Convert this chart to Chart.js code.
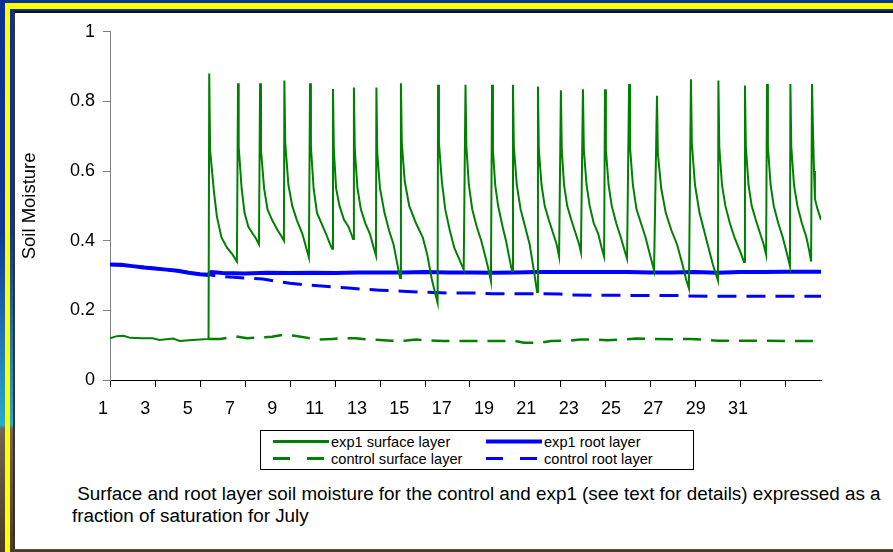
<!DOCTYPE html>
<html>
<head>
<meta charset="utf-8">
<script src="https://cdn.jsdelivr.net/npm/chart.js@4.4.1/dist/chart.umd.min.js"></script>
<style>
  html, body { margin: 0; padding: 0; }
  body {
    width: 893px; height: 552px; overflow: hidden; position: relative;
    background: linear-gradient(to bottom, #0b3290 0px, #0e3692 230px, #1f70b0 330px, #29aac6 425px, #756450 429px, #4a3b27 552px);
    font-family: "Liberation Sans", Arial, sans-serif;
  }
  #yellow { position: absolute; left: 5px; top: 3px; right: 0; bottom: 0; background: #ffff00; }
  #inner {
    position: absolute; left: 10px; top: 9px; right: 0; bottom: 0;
    background: linear-gradient(to bottom, #0b3290 0px, #0e3692 221px, #1f70b0 321px, #29aac6 416px, #756450 420px, #4a3b27 543px);
  }
  #panel {
    position: absolute; left: 13px; top: 11px; right: -5px; bottom: 2px; background: #fff;
    border-top: 2px solid #111; border-left: 2px solid #333; border-bottom: 1px solid #555;
  }
  #chart { position: absolute; left: 15px; top: 13px; }
  #legend {
    position: absolute; left: 260px; top: 430px; width: 432px; height: 38px;
    border: 1px solid #000; background: #fff;
  }
  .item { position: absolute; height: 17px; display: flex; align-items: center; font-size: 14.6px; color: #000; white-space: nowrap; }
  .item svg { margin-right: 2px; }
  #caption {
    position: absolute; left: 72px; top: 483px; font-size: 18.85px; line-height: 22px;
    color: #000; white-space: pre;
  }
</style>
</head>
<body>
<div id="yellow"></div>
<div id="inner"></div>
<div id="panel"></div>
<canvas id="chart" width="878" height="415"></canvas>
<div id="legend"></div>
<div id="caption"> Surface and root layer soil moisture for the control and exp1 (see text for details) expressed as a
fraction of saturation for July</div>
<script>
// day labels shown under the axis
const tickDays = [1, 3, 5, 7, 9, 11, 13, 15, 17, 19, 21, 23, 25, 27, 29, 31];

// exp1 surface layer
const exp1SurfaceDay = [
  1.00, 1.30, 1.60, 1.90, 2.40, 2.90, 3.20, 3.50, 3.80, 4.10, 4.50, 5.00, 5.38,
  5.41, 5.45, 5.62, 5.75, 5.95, 6.20, 6.45, 6.64,
  6.69, 6.72, 6.85, 6.98, 7.15, 7.35, 7.50, 7.62,
  7.67, 7.71, 7.85, 8.00, 8.20, 8.45, 8.60, 8.73,
  8.75, 8.79, 8.93, 9.10, 9.30, 9.55, 9.72, 9.84,
  9.89, 9.93, 10.05, 10.20, 10.40, 10.60, 10.78, 10.87,
  10.91, 10.95, 11.05, 11.20, 11.40, 11.60, 11.72, 11.80,
  11.84, 11.88, 12.00, 12.15, 12.35, 12.55, 12.72, 12.82,
  12.84, 12.88, 13.00, 13.20, 13.40, 13.60, 13.78, 13.89,
  13.93, 13.97, 14.10, 14.30, 14.60, 14.90, 15.10, 15.30, 15.45, 15.56,
  15.58, 15.62, 15.75, 15.90, 16.10, 16.30, 16.50, 16.72,
  16.80, 16.84, 16.95, 17.10, 17.30, 17.50, 17.70, 17.85, 17.93,
  17.98, 18.02, 18.12, 18.25, 18.45, 18.60, 18.75, 18.87,
  18.91, 18.95, 19.08, 19.25, 19.45, 19.65, 19.85, 19.98,
  20.02, 20.06, 20.18, 20.32, 20.50, 20.70, 20.85, 20.96,
  21.04, 21.08, 21.18, 21.32, 21.50, 21.70, 21.85, 21.93,
  22.02, 22.06, 22.18, 22.32, 22.50, 22.70, 22.85, 22.96,
  23.00, 23.04, 23.16, 23.30, 23.50, 23.70, 23.88, 23.98,
  24.07, 24.11, 24.24, 24.40, 24.60, 24.80, 25.00, 25.18,
  25.31, 25.35, 25.50, 25.70, 25.95, 26.20, 26.45, 26.60, 26.73,
  26.82, 26.86, 27.00, 27.20, 27.40, 27.60, 27.80, 28.02,
  28.04, 28.08, 28.20, 28.35, 28.55, 28.75, 29.00, 29.18,
  29.22, 29.26, 29.38, 29.52, 29.70, 29.90, 30.05, 30.16,
  30.20, 30.24, 30.36, 30.50, 30.70, 30.90, 31.10, 31.22,
  31.24, 31.28, 31.40, 31.55, 31.75, 31.95, 32.08, 32.16,
  32.20, 32.25, 32.29, 32.33, 32.45, 32.60
];
const exp1SurfaceValue = [
  0.120, 0.126, 0.127, 0.121, 0.120, 0.120, 0.115, 0.117, 0.119, 0.112, 0.114, 0.116, 0.118,
  0.880, 0.660, 0.540, 0.470, 0.410, 0.380, 0.360, 0.340,
  0.852, 0.670, 0.550, 0.480, 0.440, 0.420, 0.405, 0.390,
  0.852, 0.660, 0.550, 0.490, 0.460, 0.430, 0.415, 0.400,
  0.860, 0.680, 0.560, 0.500, 0.460, 0.420, 0.380, 0.352,
  0.852, 0.670, 0.550, 0.480, 0.450, 0.420, 0.390, 0.377,
  0.836, 0.660, 0.550, 0.500, 0.460, 0.440, 0.420, 0.405,
  0.840, 0.660, 0.550, 0.490, 0.450, 0.420, 0.380, 0.358,
  0.840, 0.650, 0.550, 0.480, 0.430, 0.390, 0.330, 0.293,
  0.852, 0.680, 0.570, 0.500, 0.450, 0.410, 0.360, 0.290, 0.250, 0.222,
  0.848, 0.680, 0.570, 0.490, 0.430, 0.380, 0.350, 0.317,
  0.848, 0.670, 0.560, 0.490, 0.440, 0.400, 0.350, 0.310, 0.284,
  0.848, 0.660, 0.560, 0.500, 0.440, 0.400, 0.350, 0.312,
  0.848, 0.670, 0.560, 0.490, 0.440, 0.390, 0.310, 0.253,
  0.843, 0.660, 0.560, 0.500, 0.460, 0.420, 0.390, 0.355,
  0.832, 0.660, 0.560, 0.500, 0.460, 0.420, 0.390, 0.367,
  0.835, 0.660, 0.560, 0.500, 0.450, 0.420, 0.380, 0.355,
  0.835, 0.660, 0.560, 0.500, 0.450, 0.410, 0.370, 0.349,
  0.850, 0.670, 0.560, 0.490, 0.450, 0.410, 0.360, 0.315,
  0.816, 0.650, 0.550, 0.480, 0.430, 0.390, 0.330, 0.290, 0.263,
  0.864, 0.680, 0.560, 0.480, 0.430, 0.380, 0.330, 0.286,
  0.860, 0.670, 0.560, 0.500, 0.450, 0.410, 0.370, 0.339,
  0.846, 0.670, 0.560, 0.500, 0.460, 0.420, 0.390, 0.360,
  0.850, 0.670, 0.560, 0.500, 0.450, 0.410, 0.360, 0.327,
  0.850, 0.670, 0.560, 0.500, 0.450, 0.410, 0.370, 0.340,
  0.850, 0.700, 0.600, 0.520, 0.490, 0.460
];

// exp1 root layer
const exp1RootDay = [1.0, 1.5, 2.0, 2.5, 3.0, 3.5, 4.0, 4.5, 5.0, 5.35, 5.5, 6, 7, 8, 9, 10, 11, 12, 13, 14, 15, 16, 17, 18, 19, 20, 21, 22, 23, 24, 25, 26, 27, 28, 29, 30, 31, 32, 32.6];
const exp1RootValue = [0.332, 0.331, 0.327, 0.323, 0.320, 0.317, 0.314, 0.308, 0.304, 0.302, 0.310, 0.307, 0.306, 0.308, 0.307, 0.308, 0.307, 0.309, 0.309, 0.309, 0.310, 0.309, 0.309, 0.308, 0.309, 0.310, 0.310, 0.310, 0.310, 0.310, 0.309, 0.309, 0.310, 0.308, 0.310, 0.310, 0.311, 0.311, 0.311];

// control surface layer
const controlSurfaceDay = [5.38, 5.9, 6.3, 6.6, 7.1, 7.6, 8.2, 8.7, 9.2, 9.8, 10.3, 10.9, 11.4, 11.9, 12.4, 13.0, 13.5, 14.1, 14.6, 15.2, 15.8, 16.6, 17.4, 18.2, 19.0, 19.4, 20.1, 20.6, 21.4, 21.9, 22.7, 23.1, 23.8, 24.4, 25.1, 26.0, 26.8, 27.4, 28.0, 29.0, 30.0, 31.0, 32.6];
const controlSurfaceValue = [0.118, 0.118, 0.122, 0.125, 0.120, 0.122, 0.124, 0.130, 0.127, 0.121, 0.116, 0.118, 0.120, 0.120, 0.117, 0.115, 0.113, 0.113, 0.116, 0.114, 0.112, 0.112, 0.112, 0.112, 0.112, 0.107, 0.107, 0.112, 0.113, 0.116, 0.116, 0.114, 0.116, 0.119, 0.118, 0.117, 0.118, 0.116, 0.113, 0.113, 0.113, 0.112, 0.112];

// control root layer
const controlRootDay = [1.0, 2.0, 3.0, 4.0, 5.0, 5.35, 5.8, 6.5, 7.2, 7.8, 8.4, 9.0, 9.6, 10.4, 11.0, 11.6, 12.2, 13.0, 13.6, 14.2, 15.0, 16.0, 17.0, 18.0, 20.0, 21.0, 21.5, 24.0, 26.2, 26.7, 29.0, 32.6];
const controlRootValue = [0.332, 0.327, 0.320, 0.314, 0.304, 0.303, 0.298, 0.295, 0.292, 0.290, 0.283, 0.278, 0.274, 0.270, 0.267, 0.264, 0.261, 0.258, 0.256, 0.254, 0.252, 0.250, 0.250, 0.248, 0.248, 0.247, 0.244, 0.243, 0.243, 0.241, 0.2405, 0.2405];

const seriesNames = ['exp1 surface layer', 'exp1 root layer', 'control surface layer', 'control root layer'];

function toPoints(days, values) {
  return days.map((d, i) => ({ x: d, y: values[i] }));
}

const datasets = [
  { label: seriesNames[0], data: toPoints(exp1SurfaceDay, exp1SurfaceValue), borderColor: '#008000', borderWidth: 2, order: 0 },
  { label: seriesNames[1], data: toPoints(exp1RootDay, exp1RootValue), borderColor: '#0000ff', borderWidth: 4, order: 2 },
  { label: seriesNames[2], data: toPoints(controlSurfaceDay, controlSurfaceValue), borderColor: '#008000', borderWidth: 2.5, borderDash: [18, 10], order: 1 },
  { label: seriesNames[3], data: toPoints(controlRootDay, controlRootValue), borderColor: '#0000ff', borderWidth: 3, borderDash: [19, 10], order: 3 }
];
datasets.forEach(ds => {
  ds.pointRadius = 0;
  ds.tension = 0;
  ds.fill = false;
});

const ctx = document.getElementById('chart').getContext('2d');
const chart = new Chart(ctx, {
  type: 'line',
  data: { datasets: datasets },
  options: {
    responsive: false,
    animation: false,
    layout: { padding: { top: 15, right: 72, bottom: 0, left: 0 } },
    plugins: { legend: { display: false }, tooltip: { enabled: false } },
    scales: {
      x: {
        type: 'linear', axis: 'x', position: 'bottom', weight: 0,
        min: 1, max: 32.6,
        afterBuildTicks: s => { s.ticks = tickDays.map(v => ({ value: v })); },
        afterFit: s => { s.height = 7; },
        ticks: { display: false },
        grid: { drawOnChartArea: false, drawTicks: true, tickLength: 7, color: '#000' },
        border: { color: '#000', width: 1 }
      },
      xLabels: {
        type: 'linear', axis: 'x', position: 'bottom', weight: 1,
        min: 1.332, max: 34.92,
        afterBuildTicks: s => { s.ticks = tickDays.map(v => ({ value: v })); },
        afterFit: s => { s.height = 41; },
        ticks: { autoSkip: false, maxRotation: 0, padding: 11, color: '#000', font: { size: 18, family: '"Liberation Sans", Arial' }, callback: v => String(v) },
        grid: { display: false, drawTicks: false },
        border: { display: false }
      },
      y: {
        min: 0, max: 1,
        afterFit: s => { s.width = 95; },
        ticks: { stepSize: 0.2, padding: 8, color: '#000', font: { size: 18, family: '"Liberation Sans", Arial' }, callback: v => String(Math.round(v * 10) / 10) },
        grid: { drawOnChartArea: false, drawTicks: true, tickLength: 7, color: '#808080' },
        border: { color: '#808080', width: 1 },
        title: { display: true, text: 'Soil Moisture', color: '#000', font: { size: 18.5, family: '"Liberation Sans", Arial' }, padding: { top: 4, bottom: 0 } }
      }
    }
  }
});

// legend box, two columns, built from the chart's datasets
const legendOrder = [0, 1, 2, 3];
const legendEl = document.getElementById('legend');
legendOrder.forEach((dsIndex, i) => {
  const ds = chart.data.datasets[dsIndex];
  const col = i % 2, row = Math.floor(i / 2);
  const item = document.createElement('div');
  item.className = 'item';
  item.style.left = (12 + col * 213) + 'px';
  item.style.top = (2 + row * 17) + 'px';
  const dash = ds.borderDash ? 'stroke-dasharray="17 17"' : '';
  const w = ds.borderDash ? 3 : (ds.borderWidth >= 4 ? 4 : 3);
  item.innerHTML = '<svg width="56" height="17"><line x1="0" y1="8.5" x2="56" y2="8.5" stroke="' +
    ds.borderColor + '" stroke-width="' + w + '" ' + dash + '/></svg><span>' + ds.label + '</span>';
  legendEl.appendChild(item);
});
</script>
</body>
</html>
